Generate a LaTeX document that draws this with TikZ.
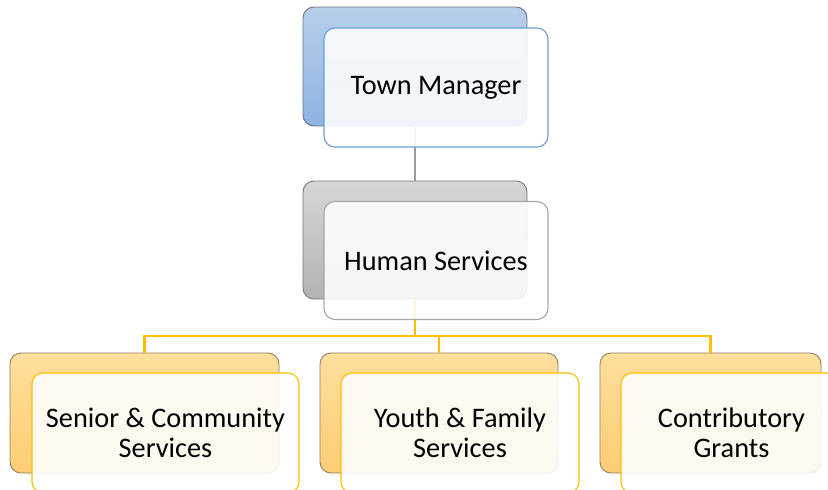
\documentclass[tikz,border=0pt]{standalone}
\usepackage{fontspec}
\setmainfont{Carlito}
\begin{document}
\begin{tikzpicture}[x=1pt,y=1pt,
  backbox/.style={draw=#1, line width=0.9pt, rounded corners=11pt, inner sep=0pt},
  frontbox/.style={draw=#1, line width=1.1pt, rounded corners=11pt, fill=white, fill opacity=0.88, text opacity=1, inner sep=0pt, align=center, font=\fontsize{28.3}{30.5}\selectfont},
  grayline/.style={draw=black!38, line width=2.4pt},
  yline/.style={draw=gold, line width=2.4pt}]
\definecolor{gold}{HTML}{FFC000}
\definecolor{tmtop}{HTML}{B8CEEA}
\definecolor{tmbot}{HTML}{8DB3E2}
\definecolor{tmedge}{HTML}{6A7480}
\definecolor{tmfront}{HTML}{6A9FD8}
\definecolor{hstop}{HTML}{D6D6D6}
\definecolor{hsbot}{HTML}{B3B3B3}
\definecolor{hsedge}{HTML}{777777}
\definecolor{hsfront}{HTML}{A6A6A6}
\definecolor{ortop}{HTML}{FEDF9C}
\definecolor{orbot}{HTML}{FDCD74}
\definecolor{oredge}{HTML}{8F7F63}
\useasboundingbox (0,0) rectangle (828,-490);
\clip (0,0) rectangle (828,-490);
\fill[white] (0,0) rectangle (828,-490);
\coordinate (bus) at (415,-336);
% back boxes
\node[backbox=tmedge, top color=tmtop, bottom color=tmbot, minimum width=224pt, minimum height=119pt] (tmb) at (415,-66.5) {};
\node[backbox=hsedge, top color=hstop, bottom color=hsbot, minimum width=224pt, minimum height=118pt] (hsb) at (415,-240) {};
\node[backbox=oredge, top color=ortop, bottom color=orbot, minimum width=269pt, minimum height=120pt] (lb) at (144.5,-413) {};
\node[backbox=oredge, top color=ortop, bottom color=orbot, minimum width=238pt, minimum height=120pt] (mb) at (439,-413) {};
\node[backbox=oredge, top color=ortop, bottom color=orbot, minimum width=221pt, minimum height=120pt] (rb) at (710.5,-413) {};
% connectors
\draw[grayline] (tmb.south) -- (hsb.north);
\draw[yline] (hsb.south) -- (bus);
\draw[yline] (lb.north) -- (lb.north |- bus) -- (rb.north |- bus) -- (rb.north);
\draw[yline] (mb.north) -- (mb.north |- bus);
% front boxes
\node[frontbox=tmfront, minimum width=224pt, minimum height=119pt] (tm) at (436,-87.5) {Town Manager};
\node[frontbox=hsfront, minimum width=224pt, minimum height=118pt] (hs) at (436,-260.5) {Human Services};
\node[frontbox=gold, minimum width=267pt, minimum height=120pt] (l) at (165.5,-433) {Senior \& Community\\Services};
\node[frontbox=gold, minimum width=238pt, minimum height=120pt] (m) at (460,-433) {Youth \& Family\\Services};
\node[frontbox=gold, minimum width=221pt, minimum height=120pt] (r) at (731.5,-433) {Contributory\\Grants};
\end{tikzpicture}
\end{document}
